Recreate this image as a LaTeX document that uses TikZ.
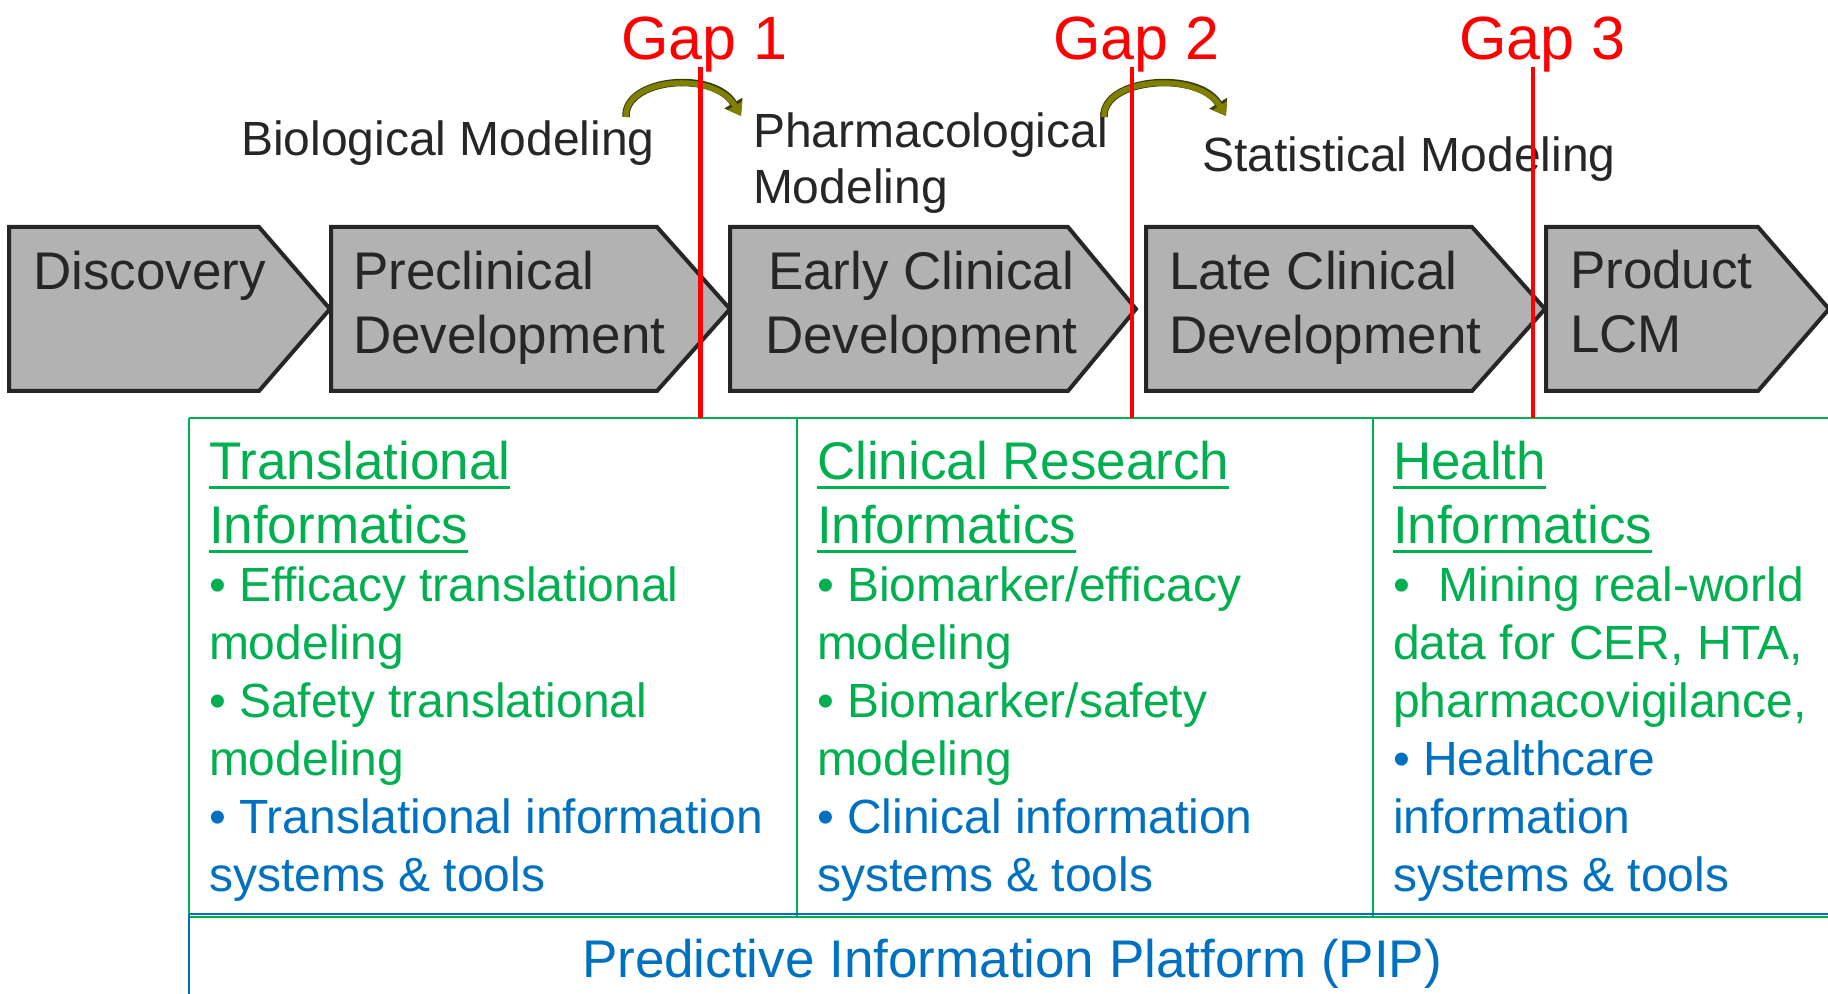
\documentclass[tikz,border=0pt]{standalone}
\usepackage{fontspec}
\setsansfont{Liberation Sans}
\usetikzlibrary{arrows.meta}

\definecolor{stagegray}{RGB}{178,178,178}
\definecolor{stageedge}{RGB}{38,38,38}
\definecolor{inkgray}{RGB}{38,38,38}
\definecolor{gapred}{RGB}{255,0,0}
\definecolor{infogreen}{RGB}{0,176,80}
\definecolor{infoblue}{RGB}{0,112,192}
\definecolor{arrowolive}{RGB}{128,128,0}
\definecolor{arrowedge}{RGB}{60,60,20}

\tikzset{
  txt/.style={inner sep=0pt,outer sep=0pt,anchor=base west},
  stagebox/.style={fill=stagegray,draw=stageedge,line width=2pt,line join=miter},
  stagetext/.style={txt,text=inkgray,font=\sffamily\fontsize{26.5}{31}\selectfont},
  modeltext/.style={txt,text=inkgray,font=\sffamily\fontsize{24}{28}\selectfont},
  gaptext/.style={txt,text=gapred,font=\sffamily\fontsize{30.5}{36}\selectfont},
  gapline/.style={draw=gapred,line width=2.25pt},
  headtext/.style={txt,text=infogreen,font=\sffamily\fontsize{26.5}{32}\selectfont},
  greentext/.style={txt,text=infogreen,font=\sffamily\fontsize{24}{29}\selectfont},
  bluetext/.style={txt,text=infoblue,font=\sffamily\fontsize{24}{29}\selectfont},
  greenrule/.style={draw=infogreen,line width=1pt},
  bluerule/.style={draw=infoblue,line width=1pt},
  underl/.style={draw=infogreen,line width=1.5pt},
  bendarrow/.style={draw=arrowolive,line width=2.75pt,-{Triangle[length=6pt,width=8pt]},
    preaction={draw=arrowedge,line width=3.75pt,-{Triangle[length=7.5pt,width=10pt]}}},
}

\begin{document}
\begin{tikzpicture}[x=.5pt,y=-.5pt]
\path[use as bounding box] (0,0) rectangle (1828,994);
% stage chevrons
\path[stagebox] (9,227) -- (259,227) -- (330,309) -- (259,391) -- (9,391) -- cycle;
\path[stagebox] (331,227) -- (657,227) -- (730,309) -- (657,391) -- (331,391) -- cycle;
\path[stagebox] (730,227) -- (1068,227) -- (1136,309) -- (1068,391) -- (730,391) -- cycle;
\path[stagebox] (1146,227) -- (1472,227) -- (1545,309) -- (1472,391) -- (1146,391) -- cycle;
\path[stagebox] (1546,227) -- (1758,227) -- (1829,309) -- (1758,391) -- (1546,391) -- cycle;
\node[stagetext] (disc) at (33,290) {Discovery};
\node[stagetext] (precl1) at (353,290) {Preclinical};
\node[stagetext] (precl2) at (353,354) {Development};
\node[stagetext] (early1) at (768,290) {Early Clinical};
\node[stagetext] (early2) at (765,354) {Development};
\node[stagetext] (late1) at (1169,290) {Late Clinical};
\node[stagetext] (late2) at (1169,354) {Development};
\node[stagetext] (prod1) at (1570,289) {Product};
\node[stagetext] (prod2) at (1570,353) {LCM};
% modeling labels and hand-over arrows
\node[modeltext] (bio) at (241,156) {Biological Modeling};
\node[modeltext] (pharma1) at (753,148) {Pharmacological};
\node[modeltext] (pharma2) at (753,204) {Modeling};
\node[modeltext] (stat) at (1202,172) {Statistical Modeling};
\coordinate (arc1s) at (626,117);
\coordinate (arc1e) at (741,116);
\coordinate (arc2s) at (1104,117);
\coordinate (arc2e) at (1226,116);
\draw[bendarrow] (arc1s) .. controls (624,78) and (714,70) .. (arc1e);
\draw[bendarrow] (arc2s) .. controls (1102,78) and (1198,70) .. (arc2e);
% informatics frame
\draw[greenrule] (189,418) -- (1828,418);
\draw[greenrule] (189,418) -- (189,916);
\draw[greenrule] (797,418) -- (797,916);
\draw[greenrule] (1373,418) -- (1373,916);
\draw[bluerule] (189,914) -- (1828,914);
\draw[greenrule] (189,917) -- (1828,917);
\draw[bluerule,line width=.75pt] (189,914) -- (189,994);
% gaps
\node[gaptext] (gap1) at (621,60) {Gap 1};
\node[gaptext] (gap2) at (1053,60) {Gap 2};
\node[gaptext] (gap3) at (1459,60) {Gap 3};
\draw[gapline] (700.5,67) -- (700.5,418);
\draw[gapline] (1132,67) -- (1132,418);
\draw[gapline] (1533,67) -- (1533,418);
% translational informatics
\node[headtext] (trans1) at (209,480) {Translational};
\node[headtext] (trans2) at (209,544) {Informatics};
\node[greentext] (trans3) at (209,602) {• Efficacy translational};
\node[greentext] (trans4) at (209,660) {modeling};
\node[greentext] (trans5) at (209,718) {• Safety translational};
\node[greentext] (trans6) at (209,776) {modeling};
\node[bluetext] (trans7) at (209,834) {• Translational information};
\node[bluetext] (trans8) at (209,892) {systems \& tools};
% clinical research informatics
\node[headtext] (clin1) at (817,480) {Clinical Research};
\node[headtext] (clin2) at (817,544) {Informatics};
\node[greentext] (clin3) at (817,602) {• Biomarker/efficacy};
\node[greentext] (clin4) at (817,660) {modeling};
\node[greentext] (clin5) at (817,718) {• Biomarker/safety};
\node[greentext] (clin6) at (817,776) {modeling};
\node[bluetext] (clin7) at (817,834) {• Clinical information};
\node[bluetext] (clin8) at (817,892) {systems \& tools};
% health informatics
\node[headtext] (health1) at (1393,480) {Health};
\node[headtext] (health2) at (1393,544) {Informatics};
\node[greentext] (health3) at (1393,602) {•\hspace{0.6em}Mining real-world};
\node[greentext] (health4) at (1393,660) {data for CER, HTA,};
\node[greentext] (health5) at (1393,718) {pharmacovigilance,};
\node[bluetext] (health6) at (1393,776) {• Healthcare};
\node[bluetext] (health7) at (1393,834) {information};
\node[bluetext] (health8) at (1393,892) {systems \& tools};
\foreach \n in {trans1,trans2,clin1,clin2,health1,health2}
  \draw[underl] ([yshift=-4pt]\n.base west) -- ([yshift=-4pt]\n.base east);
% platform
\node[bluetext,font=\sffamily\fontsize{26.5}{32}\selectfont] (pip) at (582,977) {Predictive Information Platform (PIP)};
\end{tikzpicture}
\end{document}
